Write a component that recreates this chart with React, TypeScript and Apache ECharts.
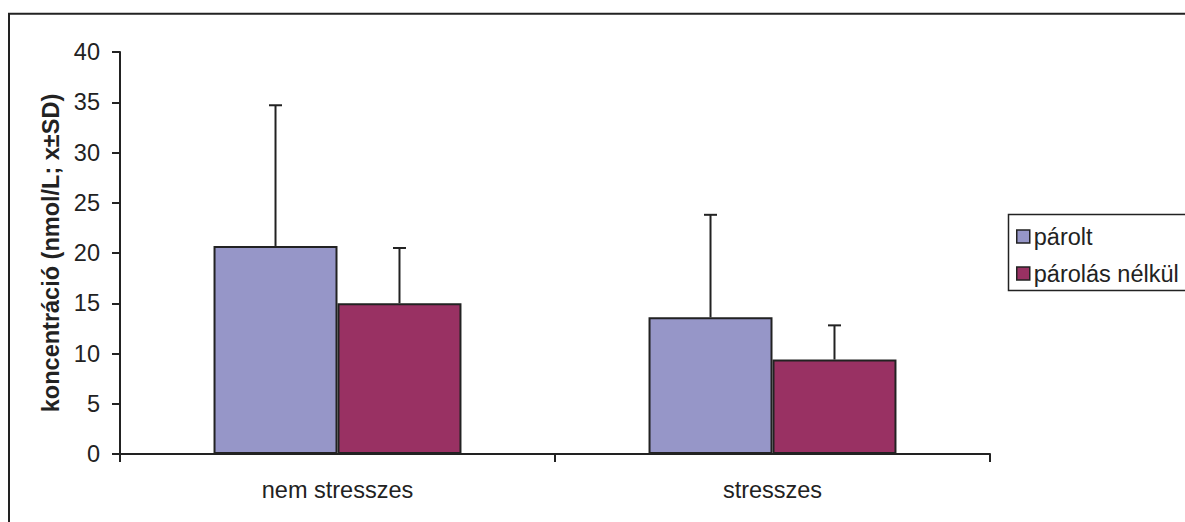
import React, { useEffect, useRef } from "react";
import * as echarts from "echarts";

const categories = ["nem stresszes", "stresszes"];
const seriesNames = ["párolt", "párolás nélkül"];
const paroltValues = [20.7, 13.6];
const paroltSD = [14.0, 10.2];
const nelkulValues = [15.0, 9.4];
const nelkulSD = [5.5, 3.4];
const yTicks = { min: 0, max: 40, interval: 5 };
const yTitle = "koncentráció (nmol/L; x±SD)";

const COLORS = ["#9696C8", "#993163"];
const GAP = 0.43;
const FONT = "'Liberation Sans', Arial, sans-serif";
const TXT = "#222";
const FS = 23.5;

export default function App() {
  const ref = useRef<HTMLDivElement>(null);
  useEffect(() => {
    document.body.style.margin = "0";
    const chart = echarts.init(ref.current!, null, { renderer: "svg" });
    const errData: number[][] = [];
    categories.forEach((_, i) => {
      errData.push([i, paroltValues[i], paroltSD[i], 0]);
      errData.push([i, nelkulValues[i], nelkulSD[i], 1]);
    });
    chart.setOption({
      animation: false,
      backgroundColor: "#fff",
      textStyle: { fontFamily: FONT },
      graphic: [
        {
          type: "rect",
          shape: { x: 9, y: 13.7, width: 1300, height: 600 },
          style: { fill: "none", stroke: "#222", lineWidth: 2 },
          z: 100,
        },
        {
          type: "rect",
          shape: { x: 1008.5, y: 214.5, width: 300, height: 76 },
          style: { fill: "none", stroke: "#222", lineWidth: 1.5 },
          z: 100,
        },
      ],
      grid: { left: 120, right: 195, top: 52, bottom: 68, containLabel: false },
      legend: {
        data: seriesNames,
        orient: "vertical",
        left: 1008,
        top: 214,
        padding: [10, 0, 6, 8],
        itemWidth: 13,
        itemHeight: 13,
        itemGap: 12,
        icon: "rect",
        itemStyle: { borderColor: "#222", borderWidth: 1.5 },
        textStyle: { fontSize: FS, color: TXT, fontFamily: FONT, lineHeight: 25, padding: [0, 0, 0, -1] },
      },
      xAxis: {
        type: "category",
        data: categories,
        axisLine: { lineStyle: { color: "#222", width: 2 } },
        axisTick: { show: true, length: 8, lineStyle: { color: "#222", width: 2 } },
        axisLabel: { fontSize: FS, color: TXT, margin: 24, fontFamily: FONT },
      },
      yAxis: {
        type: "value",
        min: yTicks.min,
        max: yTicks.max,
        interval: yTicks.interval,
        name: yTitle,
        nameLocation: "middle",
        nameGap: 57,
        nameTextStyle: { fontSize: FS, fontWeight: "bold", color: TXT, fontFamily: FONT },
        axisLine: { show: true, lineStyle: { color: "#222", width: 2 } },
        axisTick: { show: true, length: 8, lineStyle: { color: "#222", width: 2 } },
        axisLabel: { fontSize: FS, color: TXT, margin: 20, fontFamily: FONT },
        splitLine: { show: false },
      },
      series: [
        {
          name: seriesNames[0],
          type: "bar",
          data: paroltValues,
          barGap: "0%",
          barCategoryGap: GAP * 100 + "%",
          itemStyle: { color: COLORS[0], borderColor: "#222", borderWidth: 2 },
        },
        {
          name: seriesNames[1],
          type: "bar",
          data: nelkulValues,
          barGap: "0%",
          barCategoryGap: GAP * 100 + "%",
          itemStyle: { color: COLORS[1], borderColor: "#222", borderWidth: 2 },
        },
        {
          type: "custom",
          name: "sd",
          data: errData,
          z: 10,
          encode: { x: 0, y: 1 },
          renderItem: (params: any, api: any) => {
            const cat = api.value(0);
            const mean = api.value(1);
            const sd = api.value(2);
            const s = api.value(3);
            const band = api.size([1, 0])[0];
            const bw = (band * (1 - GAP)) / 2;
            const c = api.coord([cat, mean]);
            const t = api.coord([cat, mean + sd]);
            const x = c[0] + (s === 0 ? -bw / 2 : bw / 2);
            const st = { stroke: "#222", lineWidth: 2 };
            return {
              type: "group",
              children: [
                { type: "line", shape: { x1: x, y1: c[1], x2: x, y2: t[1] }, style: st },
                { type: "line", shape: { x1: x - 6.5, y1: t[1], x2: x + 6.5, y2: t[1] }, style: st },
              ],
            };
          },
        },
      ],
    });
    return () => chart.dispose();
  }, []);
  return <div ref={ref} style={{ width: 1185, height: 522 }} />;
}
